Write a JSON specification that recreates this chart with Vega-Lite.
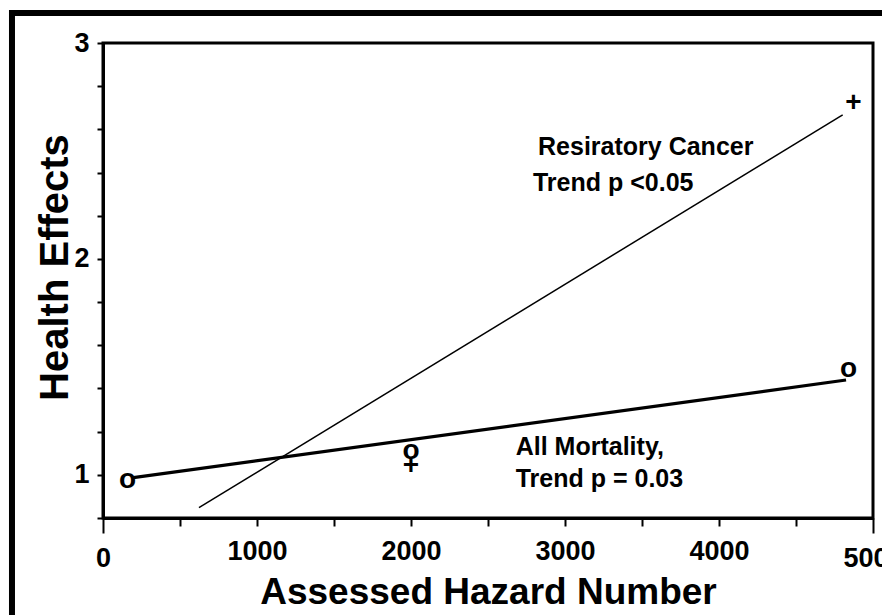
{
  "$schema": "https://vega.github.io/schema/vega-lite/v6.json",
  "width": 770,
  "height": 475,
  "autosize": {"type": "none"},
  "padding": {"left": 103, "top": 43, "right": 9, "bottom": 97},
  "background": "white",
  "config": {
    "view": {"stroke": "black", "strokeWidth": 3},
    "font": "Liberation Sans",
    "axis": {
      "domainColor": "black",
      "domainWidth": 3,
      "tickColor": "black",
      "tickWidth": 2,
      "grid": false,
      "labelColor": "black",
      "labelFont": "Liberation Sans Narrow, Liberation Sans",
      "labelFontWeight": "bold",
      "labelFontSize": 27,
      "titleColor": "black",
      "titleFont": "Liberation Sans",
      "titleFontWeight": "bold"
    }
  },
  "datasets": {
    "resp": [
      {"hazard": 623, "effect": 0.848},
      {"hazard": 4803, "effect": 2.667}
    ],
    "mort": [
      {"hazard": 197, "effect": 0.987},
      {"hazard": 4825, "effect": 1.439}
    ],
    "markers": [
      {"hazard": 159, "effect": 0.978, "symbol": "o"},
      {"hazard": 2000, "effect": 1.11, "symbol": "o"},
      {"hazard": 2000, "effect": 1.041, "symbol": "+"},
      {"hazard": 4873, "effect": 2.72, "symbol": "+"},
      {"hazard": 4841, "effect": 1.492, "symbol": "o"}
    ],
    "notes": [
      {"hazard": 2825, "effect": 2.481, "note": "Resiratory Cancer"},
      {"hazard": 2792, "effect": 2.315, "note": "Trend p <0.05"},
      {"hazard": 2680, "effect": 1.092, "note": "All Mortality,"},
      {"hazard": 2680, "effect": 0.944, "note": "Trend p = 0.03"}
    ]
  },
  "layer": [
    {
      "data": {"name": "resp"},
      "mark": {"type": "line", "color": "black", "strokeWidth": 1.5},
      "encoding": {
        "x": {
          "field": "hazard",
          "type": "quantitative",
          "title": "Assessed Hazard Number",
          "scale": {"domain": [0, 5000], "nice": false, "zero": false},
          "axis": {
            "titleFontSize": 37,
            "titleBaseline": "alphabetic",
            "titleY": 85,
            "values": [0, 500, 1000, 1500, 2000, 2500, 3000, 3500, 4000, 4500, 5000],
            "labelExpr": "datum.value % 1000 == 0 ? format(datum.value, 'd') : ''",
            "tickSize": {"condition": {"test": "datum.value == 0 || datum.value == 5000", "value": 15}, "value": 8},
            "labelPadding": 12,
            "labelFlush": false,
            "labelOverlap": false
          }
        },
        "y": {
          "field": "effect",
          "type": "quantitative",
          "title": "Health Effects",
          "scale": {"domain": [0.8, 3], "nice": false, "zero": false},
          "axis": {
            "titleFontSize": 40,
            "titleAngle": -90,
            "titleBaseline": "alphabetic",
            "titleAlign": "center",
            "titleX": -36,
            "titleY": 224,
            "values": [0.8, 1, 1.2, 1.4, 1.6, 1.8, 2, 2.2, 2.4, 2.6, 2.8, 3],
            "labelExpr": "datum.value == 1 ? '1' : datum.value == 2 ? '2' : datum.value == 3 ? '3' : ''",
            "tickSize": 6,
            "labelPadding": 8,
            "labelFlush": false,
            "labelOverlap": false
          }
        }
      }
    },
    {
      "data": {"name": "mort"},
      "mark": {"type": "line", "color": "black", "strokeWidth": 3.2},
      "encoding": {
        "x": {"field": "hazard", "type": "quantitative"},
        "y": {"field": "effect", "type": "quantitative"}
      }
    },
    {
      "data": {"name": "markers"},
      "mark": {"type": "text", "font": "Liberation Sans Narrow, Liberation Sans", "fontWeight": "bold", "fontSize": 28, "align": "center", "baseline": "middle", "color": "black"},
      "encoding": {
        "x": {"field": "hazard", "type": "quantitative"},
        "y": {"field": "effect", "type": "quantitative"},
        "text": {"field": "symbol"}
      }
    },
    {
      "data": {"name": "notes"},
      "mark": {"type": "text", "font": "Liberation Sans", "fontWeight": "bold", "fontSize": 25, "align": "left", "baseline": "alphabetic", "color": "black"},
      "encoding": {
        "x": {"field": "hazard", "type": "quantitative"},
        "y": {"field": "effect", "type": "quantitative"},
        "text": {"field": "note"}
      }
    },
    {
      "data": {"values": [{"edge": "frame"}]},
      "mark": {"type": "rect", "filled": false, "stroke": "black", "strokeWidth": 6, "clip": false},
      "encoding": {
        "x": {"datum": -591, "type": "quantitative"},
        "x2": {"datum": 5300},
        "y": {"datum": 3.139, "type": "quantitative"},
        "y2": {"datum": 0.1}
      }
    }
  ]
}
